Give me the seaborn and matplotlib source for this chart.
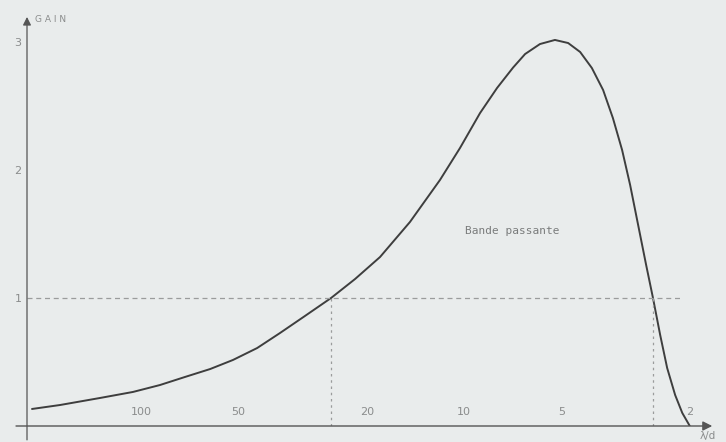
import matplotlib
matplotlib.use('Agg')
import matplotlib.pyplot as plt
import seaborn as sns
import pandas as pd
from matplotlib.ticker import NullLocator

# gain curve (lambda/d, gain)
lam_d = [217.5, 178.1, 133.9, 105.9, 87.4, 73.1, 61.1, 51.9, 43.7, 37.1,
         31.1, 25.8, 21.75, 18.2, 14.70, 11.87, 10.29, 8.92, 7.90, 7.05,
         6.47, 5.82, 5.23, 4.76, 4.37, 4.02, 3.71, 3.46, 3.24, 3.06,
         2.89, 2.73, 2.60, 2.47, 2.35, 2.22, 2.11, 2.00]
gain = [0.133, 0.164, 0.219, 0.266, 0.320, 0.383, 0.445, 0.516, 0.609, 0.727,
        0.859, 1.0, 1.148, 1.320, 1.594, 1.922, 2.172, 2.445, 2.641, 2.80,
        2.906, 2.984, 3.016, 2.992, 2.922, 2.797, 2.625, 2.406, 2.156, 1.883,
        1.570, 1.258, 1.0, 0.711, 0.453, 0.242, 0.102, 0.0]

x_ticks = [100, 50, 20, 10, 5, 2]
x_labels = ['100', '50', '20', '10', '5', '2']
y_ticks = [1, 2, 3]
y_labels = ['1', '2', '3']

# band edges where gain = 1
band_low, band_high = 25.8, 2.60
band_text = 'Bande passante'

bg = '#e9ecec'
ink = '#3e3e3e'
faint = '#9a9c9c'

sns.set_theme(style="white")
plt.rcParams['font.family'] = ['DejaVu Sans']

df = pd.DataFrame({'lam_d': lam_d, 'gain': gain})

fig = plt.figure(figsize=(7.26, 4.42), dpi=100, facecolor=bg)
ax = fig.add_axes([27 / 726, 16 / 442, 688 / 726, 416 / 442])
ax.set_facecolor(bg)

sns.lineplot(data=df, x='lam_d', y='gain', sort=False, estimator=None,
             color=ink, linewidth=1.4, ax=ax)

ax.set_xscale('log')
ax.set_xlim(225.4, 1.671)
ax.set_ylim(0, 3.25)

# dashed guide lines at gain 1
ax.hlines(1, 225.4, 2.14, colors=faint, linestyles=(0, (4, 3)), linewidth=0.9)
ax.vlines([band_low, band_high], 0, 1, colors=faint, linestyles=(0, (2, 3)), linewidth=0.9)

for s in ax.spines.values():
    s.set_visible(False)

# axes with arrows
ax.annotate('', xy=(1.0, 0), xytext=(-0.02, 0), xycoords='axes fraction',
            arrowprops=dict(arrowstyle='-|>', color='#555555', lw=1.0,
                            mutation_scale=14))
ax.annotate('', xy=(0, 0.99), xytext=(0, -0.04), xycoords='axes fraction',
            arrowprops=dict(arrowstyle='-|>', color='#555555', lw=0.9,
                            mutation_scale=12))

ax.set_xticks(x_ticks)
ax.set_xticklabels(x_labels)
ax.xaxis.set_minor_locator(NullLocator())
ax.set_yticks(y_ticks)
ax.set_yticklabels(y_labels)
ax.tick_params(axis='x', direction='in', length=3, pad=-14, colors=faint,
               labelsize=8, labelcolor='#8a8c8c')
ax.tick_params(axis='y', direction='in', length=3, pad=4, colors=faint,
               labelsize=8, labelcolor='#8a8c8c')

ax.set_xlabel('')
ax.set_ylabel('')
ax.text(0.012, 0.978, 'G A I N', transform=ax.transAxes, fontsize=6.5,
        color='#8a8c8c', va='center', ha='left')
ax.text(0.99, -0.012, 'λ/d', transform=ax.transAxes, fontsize=7.5,
        color='#8a8c8c', va='top', ha='center', clip_on=False)
ax.text(7.1, 1.52, band_text, fontsize=8, color='#7a7c7c', ha='center',
        va='center', family='DejaVu Sans Mono')

ax.grid(False)
fig.savefig('out.png', dpi=100, facecolor=bg)
